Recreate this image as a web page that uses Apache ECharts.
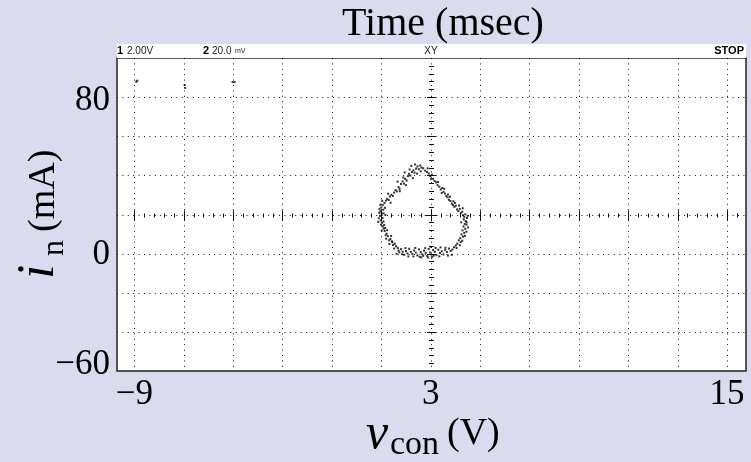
<!DOCTYPE html>
<html><head><meta charset="utf-8">
<script src="https://cdn.jsdelivr.net/npm/echarts@6/dist/echarts.min.js"></script>
<style>html,body{margin:0;padding:0;background:#dadbee;}#c{width:751px;height:462px;}</style>
</head><body><div id="c"></div>
<script>
// ---- data ----
const xTickLabels = [-9, 3, 15];
const yTickLabels = [-60, 0, 80];
const gridX = [-9, -7, -5, -3, -1, 1, 3, 5, 7, 9, 11, 13, 15];
const gridY = [-40, -20, 0, 20, 40, 60, 80];
const centerV = 3;
const centerI = 20;
// XY trace: [v_con (V), i_n (mA)]
const loopTopLeft = [[1.52,31.2],[1.58,32.5],[1.63,31.8],[1.70,34.0],[1.74,33.1],[1.80,35.6],[1.86,36.9],[1.92,35.8],[1.97,38.2],[2.03,37.4],[2.08,39.6],[2.12,40.8],[2.18,39.9],[2.24,41.7],[2.30,42.6],[2.35,41.4],[2.41,43.5],[2.47,44.6],[2.52,43.2],[2.58,45.1],[2.63,44.0],[2.70,43.6],[1.66,36.8],[1.95,41.5],[2.22,44.8],[2.15,43.0],[2.37,45.6],[2.60,42.1],[2.45,40.9],[1.89,38.9],[1.75,31.9],[2.00,35.0],[2.28,38.6]];
const loopTopRight = [[2.78,42.4],[2.85,41.7],[2.92,40.9],[2.98,39.6],[3.05,40.3],[3.10,38.2],[3.16,37.1],[3.22,36.4],[3.28,35.0],[3.35,34.2],[3.41,32.8],[3.47,33.5],[3.52,31.6],[3.58,30.7],[3.63,29.4],[3.69,28.8],[3.74,27.5],[3.80,26.9],[3.86,25.6],[3.90,24.8],[3.96,23.9],[4.02,24.5],[4.07,22.6],[3.45,31.0],[3.70,30.2],[3.92,26.8],[2.88,43.6],[3.02,38.1],[3.30,36.6],[3.55,33.2],[3.78,29.1],[3.98,25.9],[4.15,24.6]];
const loopRight = [[4.12,21.8],[4.18,22.9],[4.22,20.7],[4.28,21.4],[4.31,19.6],[4.36,18.8],[4.40,20.1],[4.34,17.5],[4.42,16.6],[4.38,15.2],[4.45,14.8],[4.33,13.9],[4.40,12.7],[4.29,11.9],[4.36,10.6],[4.25,9.8],[4.31,8.7],[4.20,7.9],[4.14,6.8],[4.22,5.9],[4.08,5.1],[4.02,4.2],[4.47,18.2],[4.24,16.0],[4.30,23.2],[4.50,19.3],[4.46,16.0],[4.52,13.4],[4.45,11.2],[4.39,9.1],[4.28,6.6],[4.18,4.3],[4.05,2.9]];
const loopBottom = [[3.95,3.3],[3.88,2.1],[3.81,1.4],[3.74,2.6],[3.66,0.8],[3.59,1.9],[3.52,-0.4],[3.45,1.2],[3.38,0.3],[3.31,2.0],[3.24,-0.8],[3.17,0.9],[3.10,1.8],[3.03,-0.5],[2.97,0.6],[2.92,2.4],[2.86,-1.2],[2.80,0.4],[2.73,1.5],[2.66,-0.3],[2.60,0.8],[2.53,2.2],[2.46,-0.9],[2.40,0.5],[2.33,1.6],[2.26,-0.2],[2.20,0.9],[2.13,2.5],[2.06,0.1],[2.00,1.3],[1.93,-0.6],[1.87,1.0],[1.80,2.3],[1.73,0.7],[1.67,2.9],[3.00,3.5],[2.90,-2.0],[2.55,-1.6],[3.35,-1.4],[3.60,3.0],[2.10,-1.4],[3.85,-0.6],[3.70,-1.0],[3.40,3.2],[3.20,2.9],[3.05,-1.8],[2.78,2.8],[2.62,-1.9],[2.38,2.9],[2.30,-1.5],[1.98,2.8],[1.84,-0.3],[1.70,1.6],[1.62,-0.1],[3.12,-1.1],[2.70,-1.1]];
const loopLeft = [[1.60,3.8],[1.55,5.1],[1.48,4.4],[1.43,6.3],[1.37,7.5],[1.32,6.8],[1.27,8.9],[1.22,10.2],[1.18,9.4],[1.14,11.6],[1.10,12.8],[1.06,13.9],[1.12,14.6],[1.03,15.8],[1.24,12.0],[1.40,9.0],[0.98,17.0],[1.05,18.2],[0.95,19.3],[1.02,20.5],[0.97,21.7],[1.08,22.4],[1.00,23.6],[1.06,24.8],[1.13,25.9],[1.09,16.4],[0.93,22.9],[1.17,19.7],[1.19,27.1],[1.24,28.0],[1.30,27.4],[1.35,29.2],[1.41,30.1],[1.47,29.5],[1.28,30.6],[1.52,2.6],[1.45,5.8],[1.33,4.9],[1.20,7.6],[1.16,13.1],[0.99,14.8],[0.90,18.1],[0.92,20.9],[0.96,25.0],[1.04,27.0],[1.10,20.6],[1.15,23.4],[1.02,11.8],[0.88,16.2],[1.38,26.0]];
const strayPoints = [[-8.92,87.9],[-8.88,88.4],[-6.96,86.2],[-6.94,84.7],[-5.02,87.7],[-4.94,87.7]];

const SERIF = '"Liberation Serif", "Times New Roman", serif';
const SANS = '"Liberation Sans", Arial, sans-serif';

const chart = echarts.init(document.getElementById('c'));

function renderGrid(params, api) {
  const ch = [];
  const dot = {stroke: '#111', lineWidth: 1, lineDash: [1, 4.4]};
  const solid = {stroke: '#111', lineWidth: 1};
  const top = 100, bot = -60, lx = -9.7, rx = 15.77;
  gridX.forEach(x => {
    const a = api.coord([x, top]), b = api.coord([x, bot]);
    const px = Math.round(a[0]) + 0.5;
    ch.push({type: 'line', shape: {x1: px, y1: a[1], x2: px, y2: b[1]}, style: dot});
  });
  gridY.forEach(y => {
    const a = api.coord([lx, y]), b = api.coord([rx, y]);
    const py = Math.round(a[1]) + 0.5;
    ch.push({type: 'line', shape: {x1: a[0], y1: py, x2: b[0], y2: py}, style: dot});
  });
  // centre crosshair ticks (5 subdivisions per grid division)
  const c = api.coord([centerV, centerI]);
  const cx = Math.round(c[0]) + 0.5, cy = Math.round(c[1]) + 0.5;
  for (let k = -30; k <= 35; k++) {
    const v = centerV + k * 0.4;
    if (v <= lx || v >= rx) continue;
    const p = api.coord([v, centerI]);
    const px = Math.round(p[0]) + 0.5;
    const h = (k % 5 === 0) ? (k === 0 ? 6 : 5) : 2;
    ch.push({type: 'line', shape: {x1: px, y1: cy - h, x2: px, y2: cy + h}, style: solid});
  }
  for (let k = -20; k <= 20; k++) {
    const u = centerI + k * 4;
    if (u <= bot || u >= top) continue;
    const p = api.coord([centerV, u]);
    const py = Math.round(p[1]) + 0.5;
    const w = (k % 5 === 0) ? (k === 0 ? 6 : 4.5) : 2.5;
    ch.push({type: 'line', shape: {x1: cx - w, y1: py, x2: cx + w, y2: py}, style: solid});
  }
  return {type: 'group', children: ch};
}

const hdrFont = '10px ' + SANS;
const hdrBold = 'bold 11px ' + SANS;

chart.setOption({
  backgroundColor: '#dadbee',
  animation: false,
  grid: {left: 117, right: 5, top: 58, bottom: 91, show: true, backgroundColor: '#ffffff', borderColor: '#222', borderWidth: 1.5},
  xAxis: {
    type: 'value', min: -9.7, max: 15.77,
    axisLine: {show: false}, axisTick: {show: false}, splitLine: {show: false},
    axisLabel: {customValues: xTickLabels, formatter: v => String(v).replace('-', '\u2212'), color: '#000', fontFamily: SERIF, fontSize: 35, margin: 6}
  },
  yAxis: {
    type: 'value', min: -60, max: 100,
    axisLine: {show: false}, axisTick: {show: false}, splitLine: {show: false},
    axisLabel: {
      customValues: yTickLabels, color: '#000', fontFamily: SERIF, fontSize: 35, margin: 7,
      formatter: v => v > 0 ? '{lo|' + v + '}' : (v < 0 ? '{hi|' + String(v).replace('-', '\u2212') + '}' : '{mid|' + v + '}'),
      rich: {
        lo: {fontFamily: SERIF, fontSize: 35, color: '#000', padding: [8, 0, 0, 0]},
        mid: {fontFamily: SERIF, fontSize: 35, color: '#000', padding: [3, 0, 0, 0]},
        hi: {fontFamily: SERIF, fontSize: 35, color: '#000', padding: [0, 0, 12, 0]}
      }
    }
  },
  series: [
    {type: 'custom', renderItem: renderGrid, data: [[centerV, centerI]], silent: true, z: 1},
    {type: 'scatter', symbol: 'rect', symbolSize: 2, itemStyle: {color: '#000'}, silent: true, z: 3,
     data: [].concat(loopTopLeft, loopTopRight, loopRight, loopBottom, loopLeft, strayPoints)}
  ],
  graphic: [
    {type: 'rect', shape: {x: 117, y: 44, width: 629, height: 14}, style: {fill: '#fff'}, z: 10},
    {type: 'text', x: 117, y: 51, z: 11, style: {text: '1', font: hdrBold, fill: '#000', textVerticalAlign: 'middle'}},
    {type: 'text', x: 127, y: 51, z: 11, style: {text: '2.00V', font: hdrFont, fill: '#222', textVerticalAlign: 'middle'}},
    {type: 'text', x: 203, y: 51, z: 11, style: {text: '2', font: hdrBold, fill: '#000', textVerticalAlign: 'middle'}},
    {type: 'text', x: 212, y: 51, z: 11, style: {text: '20.0', font: hdrFont, fill: '#222', textVerticalAlign: 'middle'}},
    {type: 'text', x: 235, y: 51, z: 11, style: {text: 'mV', font: '7px ' + SANS, fill: '#222', textVerticalAlign: 'middle'}},
    {type: 'text', x: 431, y: 51, z: 11, style: {text: 'XY', font: hdrFont, fill: '#222', textAlign: 'center', textVerticalAlign: 'middle'}},
    {type: 'text', x: 744, y: 51, z: 11, style: {text: 'STOP', font: hdrBold, fill: '#000', textAlign: 'right', textVerticalAlign: 'middle'}},
    {type: 'text', x: 443, y: 24, z: 11, style: {text: 'Time (msec)', font: '40px ' + SERIF, fill: '#000', textAlign: 'center', textVerticalAlign: 'middle'}},
    {type: 'text', x: 366, y: 435, z: 11, style: {text: 'v', font: 'italic 50px ' + SERIF, fill: '#000', textAlign: 'left', textVerticalAlign: 'middle'}},
    {type: 'text', x: 390, y: 445.5, z: 11, style: {text: 'con', font: '34px ' + SERIF, fill: '#000', textAlign: 'left', textVerticalAlign: 'middle'}},
    {type: 'text', x: 447, y: 434, z: 11, style: {text: '(V)', font: '38px ' + SERIF, fill: '#000', textAlign: 'left', textVerticalAlign: 'middle'}},
    {type: 'text', x: 39, y: 279, rotation: Math.PI / 2, z: 11, style: {text: 'i', font: 'italic 52px ' + SERIF, fill: '#000', textAlign: 'left', textVerticalAlign: 'middle'}},
    {type: 'text', x: 55, y: 256, rotation: Math.PI / 2, z: 11, style: {text: 'n', font: '32px ' + SERIF, fill: '#000', textAlign: 'left', textVerticalAlign: 'middle'}},
    {type: 'text', x: 44, y: 232, rotation: Math.PI / 2, z: 11, style: {text: '(mA)', font: '38px ' + SERIF, fill: '#000', textAlign: 'left', textVerticalAlign: 'middle'}}
  ]
});
</script></body></html>
